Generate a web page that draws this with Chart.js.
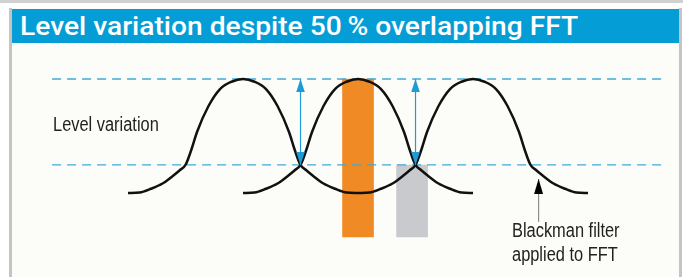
<!DOCTYPE html>
<html>
<head>
<meta charset="utf-8">
<script src="https://cdn.jsdelivr.net/npm/chart.js@4"></script>
<style>
  html, body { margin: 0; padding: 0; background: #fff; }
  body { width: 683px; height: 277px; position: relative; overflow: hidden; }
  .topline { position: absolute; left: 0; top: 0; width: 683px; height: 3px; background: #d0d0d0; }
  .frame { position: absolute; left: 9px; top: 8px; width: 667px; height: 280px;
           border-left: 3px solid #c4c4c4; border-right: 3px solid #c4c4c4; background: #fcfcf8; }
  .title { position: absolute; left: 0; top: 1px; width: 667px; height: 34px; background: #049dd5;
           color: #fff; font: 500 25px Roboto, "Liberation Sans", Arial, sans-serif; line-height: 35px;
           padding-left: 8px; box-sizing: border-box; white-space: nowrap; }
  .title span { display: inline-block; transform-origin: 0 50%; }
  .plot { position: absolute; left: 0; top: 35px; width: 667px; height: 234px; }
</style>
</head>
<body>
<div class="topline"></div>
<div class="frame">
  <div class="title"><span id="ttl">Level variation despite 50&#8201;% overlapping FFT</span></div>
  <div class="plot"><canvas id="c" width="667" height="234"></canvas></div>
</div>
<script>
// FFT bin positions of the three filter peaks
const peakBins = [1, 2, 3];
// Blackman filter shape: offset from peak (bins) and relative level
const shapeOffsets = [-1, -0.9, -0.8, -0.7, -0.6, -0.55, -0.5, -0.45, -0.4, -0.3, -0.2, -0.1, 0,
                      0.1, 0.2, 0.3, 0.4, 0.45, 0.5, 0.55, 0.6, 0.7, 0.8, 0.9, 1];
const shapeLevels = [0, 0.004, 0.037, 0.083, 0.158, 0.2, 0.246, 0.377, 0.535, 0.763, 0.912, 0.976, 1,
                     0.976, 0.912, 0.763, 0.535, 0.377, 0.246, 0.2, 0.158, 0.083, 0.037, 0.004, 0];
// dashed reference levels (peak and crossing level)
const refLevels = [1, 0.246];
const refSpan = [-0.66, 4.65];
// signal lines: on-bin (orange) and between bins (gray)
const signalBins = [2.0, 2.47];
const signalTops = [1, 0.246];
const signalBase = -0.386;
// level variation arrows at crossing points
const variationBins = [1.5, 2.5];
// pointer to the filter curve
const pointerBin = 3.57;
const pointerLevels = [-0.254, 0.123];

const curveColor = '#111';
const dashBlue = '#40a8d8';
const arrowBlue = '#1c9bd6';

// stretch title glyphs to the width they have in the original layout
const ttl = document.getElementById('ttl');
const ttlW = ttl.getBoundingClientRect().width;
ttl.style.transform = 'scaleX(' + (558 / ttlW).toFixed(3) + ')';

const datasets = [];

peakBins.forEach(p => {
  datasets.push({
    type: 'line',
    data: shapeOffsets.map((o, i) => ({ x: p + o, y: shapeLevels[i] })),
    borderColor: curveColor,
    borderWidth: 2.5,
    pointRadius: 0,
    cubicInterpolationMode: 'monotone',
    order: 1,
  });
});

refLevels.forEach(l => {
  datasets.push({
    type: 'line',
    data: refSpan.map(x => ({ x, y: l })),
    borderColor: dashBlue,
    borderWidth: 1.3,
    borderDash: [9, 6],
    pointRadius: 0,
    order: 2,
  });
});

datasets.push({
  type: 'bar',
  data: signalBins.map((b, i) => ({ x: b, y: [signalBase, signalTops[i]] })),
  backgroundColor: ['#ef8a25', '#c8cacd'],
  barThickness: 31,
  order: 3,
});

variationBins.forEach(b => {
  datasets.push({
    type: 'line',
    data: [{ x: b, y: refLevels[1] }, { x: b, y: refLevels[0] }],
    borderColor: arrowBlue,
    borderWidth: 1.2,
    pointRadius: 0,
    arrowHeads: [0, 1],
    headColor: arrowBlue,
    headSize: [13, 4.3],
    order: 0,
  });
});

datasets.push({
  type: 'line',
  data: pointerLevels.map(y => ({ x: pointerBin, y })),
  borderColor: '#8c8c8c',
  borderWidth: 1.2,
  pointRadius: 0,
  arrowHeads: [1],
  headColor: '#000',
  headSize: [15, 4.5],
  order: 0,
});

const notes = [
  { text: 'Level variation', x: -0.652, y: 0.544 },
  { text: 'Blackman filter', x: 3.339, y: -0.386 },
  { text: 'applied to FFT', x: 3.339, y: -0.596 },
];

const annotate = {
  id: 'annotate',
  afterDatasetsDraw(chart) {
    const { ctx, scales: { x, y } } = chart;
    chart.data.datasets.forEach((ds, i) => {
      if (!ds.arrowHeads) return;
      const pts = chart.getDatasetMeta(i).data;
      ds.arrowHeads.forEach(idx => {
        const tip = pts[idx], other = pts[1 - idx];
        const dx = tip.x - other.x, dy = tip.y - other.y;
        const len = Math.hypot(dx, dy) || 1;
        const ux = dx / len, uy = dy / len;
        const [h, w] = ds.headSize;
        ctx.save();
        ctx.fillStyle = ds.headColor;
        ctx.beginPath();
        ctx.moveTo(tip.x, tip.y);
        ctx.lineTo(tip.x - ux * h - uy * w, tip.y - uy * h + ux * w);
        ctx.lineTo(tip.x - ux * h + uy * w, tip.y - uy * h - ux * w);
        ctx.closePath();
        ctx.fill();
        ctx.restore();
      });
    });
    // condensed labels: regular face squeezed horizontally
    ctx.save();
    ctx.fillStyle = '#222';
    ctx.font = '20px "Liberation Sans", Arial, sans-serif';
    ctx.textBaseline = 'alphabetic';
    notes.forEach(n => {
      ctx.save();
      ctx.translate(x.getPixelForValue(n.x), y.getPixelForValue(n.y));
      ctx.scale(0.82, 1);
      ctx.fillText(n.text, 0, 0);
      ctx.restore();
    });
    ctx.restore();
  },
};

new Chart(document.getElementById('c'), {
  type: 'line',
  data: { datasets },
  options: {
    responsive: false,
    animation: false,
    layout: { padding: 0 },
    plugins: { legend: { display: false }, tooltip: { enabled: false } },
    scales: {
      x: { type: 'linear', min: -1.0087, max: 4.791, offset: false, display: false },
      y: { type: 'linear', min: -0.737, max: 1.316, display: false },
    },
  },
  plugins: [annotate],
});
</script>
</body>
</html>
